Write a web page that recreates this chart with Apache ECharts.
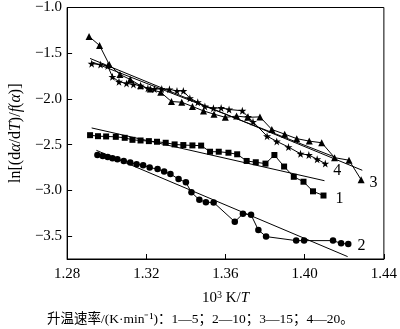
<!DOCTYPE html>
<html><head><meta charset="utf-8">
<script src="https://cdn.jsdelivr.net/npm/echarts@6/dist/echarts.min.js"></script>
<style>html,body{margin:0;padding:0;background:#fff}#c{width:400px;height:329px}</style>
</head><body><div id="c"></div>
<script>
// ---- data ----
const xTicks = [1.28, 1.32, 1.36, 1.40, 1.44];
const yTicks = [-3.5, -3.0, -2.5, -2.0, -1.5, -1.0];

// series 1 (5 K/min, squares)
const s1x = [1.2916,1.2956,1.2997,1.3046,1.3091,1.3130,1.3171,1.3213,1.3254,1.3298,1.3343,1.3387,1.3433,1.3477,
             1.3522,1.3566,1.3615,1.3659,1.3707,1.3753,1.3802,1.3847,1.3896,1.3945,1.3994,1.4042,1.4095];
const s1y = [-2.396,-2.407,-2.410,-2.414,-2.425,-2.447,-2.454,-2.461,-2.468,-2.479,-2.497,-2.504,-2.508,-2.510,
             -2.577,-2.577,-2.588,-2.605,-2.678,-2.692,-2.707,-2.613,-2.739,-2.851,-2.905,-3.010,-3.056];
// series 2 (10 K/min, circles)
const s2x = [1.2953,1.2980,1.3005,1.3029,1.3054,1.3086,1.3119,1.3151,1.3184,1.3217,1.3257,1.3290,1.3322,1.3363,1.3400,
             1.3428,1.3468,1.3501,1.3540,1.3647,1.3688,1.3729,1.3766,1.3805,1.3957,1.3997,1.4143,1.4184,1.4220];
const s2y = [-2.613,-2.623,-2.634,-2.648,-2.659,-2.678,-2.696,-2.713,-2.724,-2.750,-2.767,-2.793,-2.821,-2.876,-2.912,
             -3.021,-3.103,-3.129,-3.132,-3.343,-3.256,-3.267,-3.433,-3.505,-3.549,-3.549,-3.549,-3.579,-3.587];
// series 3 (15 K/min, triangles)
const s3x = [1.2911,1.2964,1.3013,1.3067,1.3119,1.3171,1.3220,1.3273,1.3327,1.3379,1.3433,1.3489,1.3542,1.3599,1.3656,
             1.3712,1.3774,1.3834,1.3899,1.3960,1.4023,1.4086,1.4151,1.4224,1.4285];
const s3y = [-1.317,-1.415,-1.624,-1.733,-1.787,-1.855,-1.891,-1.928,-2.028,-2.036,-2.082,-2.131,-2.166,-2.201,-2.187,
             -2.201,-2.196,-2.334,-2.385,-2.434,-2.461,-2.479,-2.642,-2.670,-2.883];
// series 4 (20 K/min, stars)
const s4x = [1.2924,1.2969,1.3005,1.3029,1.3062,1.3100,1.3135,1.3171,1.3208,1.3241,1.3278,1.3317,1.3355,1.3387,1.3420,
             1.3460,1.3496,1.3539,1.3578,1.3618,1.3685,1.3714,1.3739,1.3810,1.3859,1.3918,1.3979,1.4021,1.4063,1.4104];
const s4y = [-1.614,-1.624,-1.639,-1.758,-1.812,-1.830,-1.841,-1.855,-1.884,-1.891,-1.891,-1.895,-1.912,-1.912,-1.992,
             -2.036,-2.082,-2.101,-2.098,-2.115,-2.129,-2.196,-2.250,-2.407,-2.464,-2.526,-2.599,-2.613,-2.659,-2.707];

// linear fits (endpoints)
const fit1 = [[1.2924,-2.317],[1.4100,-2.894]];
const fit2 = [[1.2948,-2.562],[1.4217,-3.724]];
const fit3 = [[1.2916,-1.557],[1.4291,-2.780]];
const fit4 = [[1.2925,-1.595],[1.4150,-2.634]];

const seriesNames = ['1','2','3','4'];
const caption = '升温速率/(K·min\u207B\u00B9)：1—5；2—10；3—15；4—20。';

// ---- chart ----
const SERIF = '"Liberation Serif","Times New Roman",serif';
const STAR = 'path://M50,0 L61,35 L98,35 L68,57 L79,91 L50,70 L21,91 L32,57 L2,35 L39,35 Z';
const fmtMinus = v => (v < 0 ? '\u2212' : '') + Math.abs(v).toFixed(1);

function pts(xs, ys, lab) {
  return xs.map((x, i) => {
    const v = [x, ys[i]];
    if (i === xs.length - 1) {
      return { value: v, label: { show: true, formatter: lab.text, position: 'right',
        distance: lab.d, offset: lab.off, fontSize: 16, fontFamily: SERIF, color: '#000' } };
    }
    return v;
  });
}
function dataSeries(xs, ys, symbol, size, lab) {
  return { type: 'line', data: pts(xs, ys, lab), symbol: symbol, symbolSize: size, showSymbol: true,
    lineStyle: { color: '#000', width: 1 }, itemStyle: { color: '#000' }, animation: false, z: 3 };
}
function fitSeries(d) {
  return { type: 'line', data: d, symbol: 'none', lineStyle: { color: '#000', width: 1 }, animation: false, z: 2 };
}

const chart = echarts.init(document.getElementById('c'), null, { renderer: 'canvas' });
chart.setOption({
  backgroundColor: '#fff',
  animation: false,
  title: {
    text: caption, left: 42, top: 308,
    textStyle: { fontSize: 13.5, fontWeight: 'normal', color: '#000',
      fontFamily: '"Liberation Serif","Noto Sans CJK SC",serif' }
  },
  grid: { left: 62, right: 10, top: 5, bottom: 70, show: true, borderColor: '#000', borderWidth: 1 },
  xAxis: {
    type: 'value', min: xTicks[0], max: xTicks[xTicks.length - 1], interval: 0.04,
    axisLine: { lineStyle: { color: '#000', width: 1 } },
    axisTick: { inside: true, length: 5, lineStyle: { color: '#000' } },
    axisLabel: { color: '#000', fontSize: 15, fontFamily: SERIF, margin: 8,
      formatter: v => v.toFixed(2) },
    splitLine: { show: false },
    name: '{n|10}{sup|3}{n| K/}{i|T}', nameLocation: 'middle', nameGap: 31,
    nameTextStyle: { color: '#000', fontSize: 15, fontFamily: SERIF,
      rich: { n: { fontSize: 15, fontFamily: SERIF, color: '#000' },
              sup: { fontSize: 10, fontFamily: SERIF, color: '#000', padding: [0, 0, 7, 0] },
              i: { fontSize: 15, fontStyle: 'italic', fontFamily: SERIF, color: '#000' } } }
  },
  yAxis: {
    type: 'value', min: -3.75, max: -1.0,
    axisLine: { lineStyle: { color: '#000', width: 1 } },
    axisTick: { inside: true, length: 5, customValues: yTicks, lineStyle: { color: '#000' } },
    axisLabel: { color: '#000', fontSize: 15, fontFamily: SERIF, margin: 5, customValues: yTicks,
      formatter: v => fmtMinus(v) },
    splitLine: { show: false },
    name: '{n|ln[(d}{i|α}{n|/d}{i|T}{n|)/}{i|f}{n|(}{i|α}{n|)]}', nameLocation: 'middle', nameGap: 42, nameRotate: 90,
    nameTextStyle: { color: '#000', fontSize: 16, fontFamily: SERIF,
      rich: { n: { fontSize: 16, fontFamily: SERIF, color: '#000' },
              i: { fontSize: 16, fontStyle: 'italic', fontFamily: SERIF, color: '#000' } } }
  },
  series: [
    fitSeries(fit1), fitSeries(fit2), fitSeries(fit3), fitSeries(fit4),
    dataSeries(s1x, s1y, 'rect', 6, { text: seriesNames[0], d: 9, off: [0, 3] }),
    dataSeries(s2x, s2y, 'circle', 6.5, { text: seriesNames[1], d: 6, off: [0, 2] }),
    dataSeries(s3x, s3y, 'triangle', 7, { text: seriesNames[2], d: 5, off: [0, 3] }),
    dataSeries(s4x, s4y, STAR, 8, { text: seriesNames[3], d: 4, off: [0, 7] })
  ]
});
</script></body></html>
